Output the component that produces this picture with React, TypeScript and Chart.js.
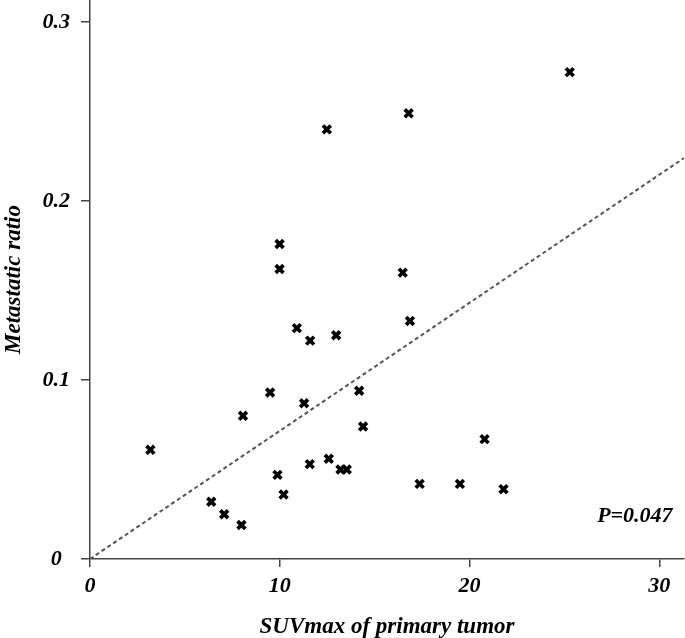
import React, { useEffect, useRef } from "react";
import { Chart, registerables } from "chart.js";

Chart.register(...registerables);

const suvMax = [3.18, 6.39, 7.07, 7.98, 8.06, 9.49, 9.88, 10.2, 9.99, 9.99, 10.9, 11.28, 11.6, 11.58, 12.48, 12.58, 12.97, 13.2, 13.53, 14.18, 14.39, 16.48, 16.79, 16.86, 17.37, 19.49, 20.79, 21.79, 25.28];
const metRatio = [0.061, 0.032, 0.025, 0.019, 0.080, 0.093, 0.047, 0.036, 0.176, 0.162, 0.129, 0.087, 0.122, 0.053, 0.240, 0.056, 0.125, 0.050, 0.050, 0.094, 0.074, 0.160, 0.249, 0.133, 0.042, 0.042, 0.067, 0.039, 0.272];

const fitX = [0, 31.3];
const fitY = [0, 0.224];

const xTicks = [0, 10, 20, 30];
const yTicks = [0, 0.1, 0.2, 0.3];
const xMax = 31.3;
const yMax = 0.3123;

const xTitle = "SUVmax of primary tumor";
const yTitle = "Metastatic ratio";
const pLabel = "P=0.047";
const pLabelPos = { x: 30.7, y: 0.0207 };

const FONT = "'Liberation Serif', 'Times New Roman', serif";
const AXIS = "#444";

export default function App() {
  const ref = useRef<HTMLCanvasElement>(null);
  useEffect(() => {
    const pPlugin = {
      id: "pLabel",
      afterDraw(chart: any) {
        const ctx = chart.ctx;
        const x = chart.scales.x.getPixelForValue(pLabelPos.x);
        const y = chart.scales.y.getPixelForValue(pLabelPos.y);
        ctx.save();
        ctx.font = `italic bold 22px ${FONT}`;
        ctx.fillStyle = "#000";
        ctx.textAlign = "right";
        ctx.textBaseline = "alphabetic";
        ctx.fillText(pLabel, x, y);
        ctx.restore();
      },
    };
    const chart = new Chart(ref.current!, {
      type: "scatter",
      data: {
        datasets: [
          {
            data: suvMax.map((v, i) => ({ x: v, y: metRatio[i] })),
            pointStyle: "crossRot",
            pointRadius: 5.5,
            borderColor: "#000",
            backgroundColor: "#000",
            pointBorderWidth: 3.7,
            clip: false,
          } as any,
          {
            type: "line",
            data: fitX.map((v, i) => ({ x: v, y: fitY[i] })),
            borderColor: "#555",
            borderWidth: 2,
            borderDash: [4, 3],
            pointRadius: 0,
            fill: false,
          } as any,
        ],
      },
      plugins: [pPlugin],
      options: {
        responsive: false,
        animation: false,
        layout: { autoPadding: false, padding: { left: 0, right: 1, top: 0, bottom: 0 } },
        plugins: { legend: { display: false }, tooltip: { enabled: false } },
        scales: {
          x: {
            type: "linear",
            min: 0,
            max: xMax,
            afterBuildTicks: (s: any) => {
              s.ticks = xTicks.map((v) => ({ value: v }));
            },
            afterFit: (s: any) => {
              s.height = 79;
              s.paddingLeft = 0;
              s.paddingRight = 0;
            },
            border: { display: true, color: AXIS, width: 1.5 },
            grid: { display: true, drawOnChartArea: false, drawTicks: true, tickLength: 8, color: AXIS, lineWidth: 1.5 },
            ticks: {
              color: "#000",
              padding: 6,
              font: { family: FONT, size: 22, style: "italic", weight: "bold" },
              maxRotation: 0,
            },
            title: {
              display: true,
              text: xTitle,
              color: "#000",
              font: { family: FONT, size: 23, style: "italic", weight: "bold" },
              padding: { top: 12, bottom: -3 },
            },
          },
          y: {
            type: "linear",
            min: 0,
            max: yMax,
            afterBuildTicks: (s: any) => {
              s.ticks = yTicks.map((v) => ({ value: v }));
            },
            afterFit: (s: any) => {
              s.width = 90;
              s.paddingTop = 0;
              s.paddingBottom = 0;
            },
            border: { display: true, color: AXIS, width: 1.5 },
            grid: { display: true, drawOnChartArea: false, drawTicks: true, tickLength: 9, color: AXIS, lineWidth: 1.5 },
            ticks: {
              color: "#000",
              padding: 11,
              crossAlign: "center",
              font: { family: FONT, size: 22, style: "italic", weight: "bold" },
              callback: (v: any) => String(v),
            },
            title: {
              display: true,
              text: yTitle,
              color: "#000",
              font: { family: FONT, size: 23, style: "italic", weight: "bold" },
              padding: { top: 0, bottom: 0 },
            },
          },
        },
      },
    });
    return () => chart.destroy();
  }, []);
  return (
    <div style={{ position: "fixed", left: 0, top: 0, width: 685, height: 638, background: "#fff" }}>
      <canvas ref={ref} width={685} height={638} />
    </div>
  );
}
